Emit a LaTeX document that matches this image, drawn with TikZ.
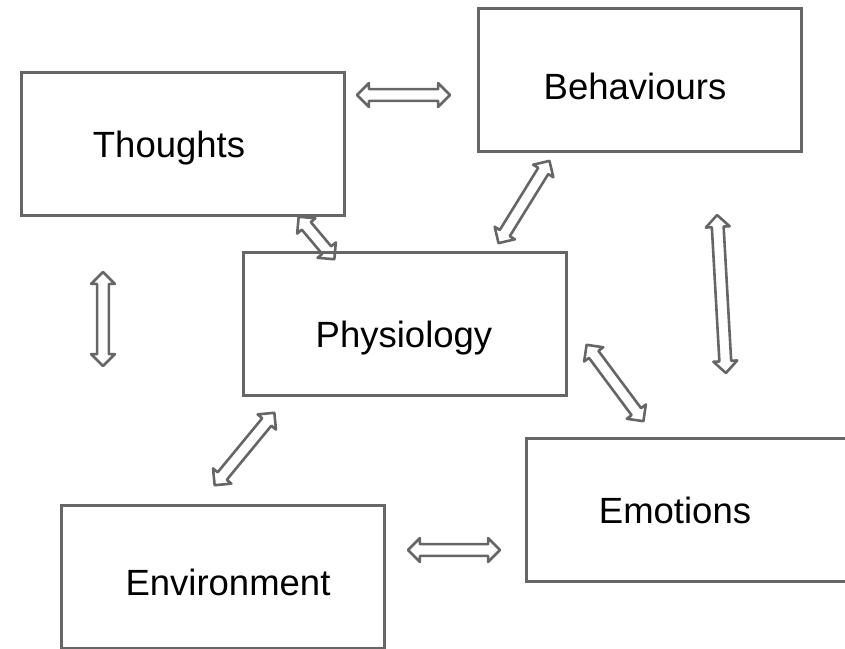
\documentclass[tikz,border=0pt]{standalone}
\usepackage{fontspec}
\setmainfont{Liberation Sans}
\usetikzlibrary{shapes.arrows,calc}
\definecolor{linegray}{HTML}{666666}
\tikzset{
  box/.style={draw=linegray, line width=3pt, minimum width=323pt, minimum height=143pt, inner sep=0pt, anchor=north west},
  lbl/.style={anchor=base, inner sep=0pt, font=\fontsize{36.5}{40}\selectfont, text=black},
  dbl/.style={double arrow, draw=linegray, line width=2.6pt, line join=round, inner sep=4.6pt,
    double arrow head extend=6pt, minimum width=0pt, double arrow tip angle=90},
}
\newcommand\dblarr[3]{%
  \path let \p1=(#2), \p2=(#3), \n1={atan2(\y2-\y1,\x2-\x1)}, \n2={veclen(\x2-\x1,\y2-\y1)} in
    node[dbl, minimum height={(\n2-2)*1pt}, rotate=\n1] (#1) at ($(#2)!0.5!(#3)$) {};}
\begin{document}
\begin{tikzpicture}[x=1pt,y=-1pt]
\useasboundingbox (0,0) rectangle (845,648);
% boxes
\node[box] (thoughts) at (20,71) {};
\node[box] (behaviours) at (477,7) {};
\node[box] (physiology) at (242,251) {};
\node[box] (emotions) at (525,437) {};
\node[box] (environment) at (60,504) {};
% labels
\node[lbl] (tThoughts) at (169,157) {Thoughts};
\node[lbl] (tBehaviours) at (635,99) {Behaviours};
\node[lbl] (tPhysiology) at (404,347) {Physiology};
\node[lbl] (tEmotions) at (675,523) {Emotions};
\node[lbl] (tEnvironment) at (228,595) {Environment};
% arrow end points
\coordinate (a1s) at (356,95);  \coordinate (a1e) at (451,95);
\coordinate (a2s) at (298,216); \coordinate (a2e) at (335,260);
\coordinate (a3s) at (103,271); \coordinate (a3e) at (103,367);
\coordinate (a4s) at (498,244); \coordinate (a4e) at (550,160);
\coordinate (a5s) at (717,214); \coordinate (a5e) at (726,374);
\coordinate (a6s) at (586,344); \coordinate (a6e) at (644,422);
\coordinate (a7s) at (214,486); \coordinate (a7e) at (275,412);
\coordinate (a8s) at (407,550); \coordinate (a8e) at (501,550);
\dblarr{arrTB}{a1s}{a1e}
\dblarr{arrTP}{a2s}{a2e}
\dblarr{arrTE}{a3s}{a3e}
\dblarr{arrBP}{a4s}{a4e}
\dblarr{arrBE}{a5s}{a5e}
\dblarr{arrPE}{a6s}{a6e}
\dblarr{arrEP}{a7s}{a7e}
\dblarr{arrEE}{a8s}{a8e}
\end{tikzpicture}
\end{document}
